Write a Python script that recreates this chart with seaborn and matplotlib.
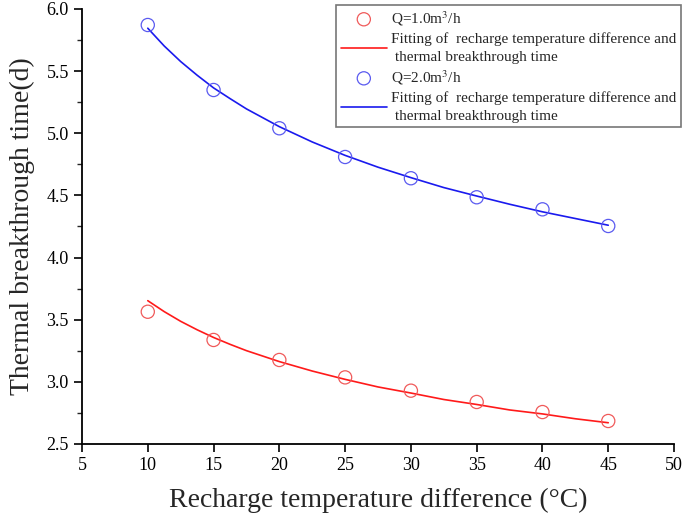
import numpy as np
import pandas as pd
import seaborn as sns
import matplotlib.pyplot as plt
from matplotlib.ticker import MultipleLocator

# measured points
temp_diff = [10, 15, 20, 25, 30, 35, 40, 45]
time_q1 = [3.564, 3.337, 3.176, 3.036, 2.929, 2.838, 2.757, 2.685]
time_q2 = [5.871, 5.348, 5.040, 4.809, 4.638, 4.485, 4.388, 4.254]

# fitted curves
fit_x = [10, 11.25, 12.5, 13.75, 15, 16.25, 17.5, 20, 22.5, 25, 27.5, 30,
         32.5, 35, 37.5, 40, 42.5, 45]
fit_q1 = [3.653, 3.565, 3.487, 3.419, 3.357, 3.302, 3.251, 3.163, 3.087, 3.02,
          2.959, 2.91, 2.858, 2.818, 2.774, 2.742, 2.703, 2.671]
fit_q2 = [5.845, 5.702, 5.577, 5.467, 5.365, 5.279, 5.196, 5.053, 4.93, 4.822,
          4.727, 4.643, 4.563, 4.495, 4.429, 4.368, 4.314, 4.26]

fit_label = "Fitting of  recharge temperature difference and\n thermal breakthrough time"

sns.set_theme(style="ticks")
plt.rcParams['font.family'] = ['Liberation Serif', 'DejaVu Serif']
plt.rcParams['mathtext.fontset'] = 'stix'

pts = pd.DataFrame({'x': temp_diff, 'q1': time_q1, 'q2': time_q2})
fits = pd.DataFrame({'x': fit_x, 'q1': fit_q1, 'q2': fit_q2})

fig = plt.figure(figsize=(6.85, 5.21), dpi=100)
ax = fig.add_axes([0.1197, 0.1478, 0.8643, 0.835])

red_pt, red_ln = '#f05a5a', '#ff1a1a'
blue_pt, blue_ln = '#5a5af0', '#1a1aee'

sns.scatterplot(data=pts, x='x', y='q1', ax=ax, marker='o', s=90,
                facecolors='none', edgecolor=red_pt, linewidth=0.9,
                label='Q=1.0m$^3$/h', zorder=3)
sns.lineplot(data=fits, x='x', y='q1', ax=ax, color=red_ln, linewidth=1.2,
             label=fit_label)
sns.scatterplot(data=pts, x='x', y='q2', ax=ax, marker='o', s=90,
                facecolors='none', edgecolor=blue_pt, linewidth=0.9,
                label='Q=2.0m$^3$/h', zorder=3)
sns.lineplot(data=fits, x='x', y='q2', ax=ax, color=blue_ln, linewidth=1.2,
             label=fit_label)

ax.set_xlim(5, 50)
ax.set_ylim(2.5, 6.0)
ax.xaxis.set_major_locator(MultipleLocator(5))
ax.yaxis.set_minor_locator(MultipleLocator(0.25))
ax.set_yticks(np.arange(2.5, 6.01, 0.5))
ax.set_yticklabels([f"{v:.1f}" for v in np.arange(2.5, 6.01, 0.5)])

ax.tick_params(axis='both', which='major', direction='out', length=6, width=1.2,
               labelsize=13, colors='black')
ax.tick_params(axis='y', which='minor', direction='out', length=3.5, width=1.0)
for side in ['left', 'bottom']:
    ax.spines[side].set_linewidth(1.3)
    ax.spines[side].set_color('black')
sns.despine(ax=ax)

ax.set_xlabel('Recharge temperature difference (\u00b0C)', fontsize=20, labelpad=10)
ax.set_ylabel('Thermal breakthrough time(d)', fontsize=20, labelpad=8)

handles, labels = ax.get_legend_handles_labels()
leg = ax.legend(handles, labels, loc='upper right', bbox_to_anchor=(1.012, 1.01),
                fontsize=11, frameon=True, fancybox=False, edgecolor='#777777',
                framealpha=1, handlelength=3.0, handletextpad=0.3,
                borderpad=0.3, labelspacing=0.3, borderaxespad=0.0)
for t in leg.get_texts():
    t.set_linespacing(1.45)
leg.get_frame().set_linewidth(1.2)

fig.savefig('out.png', dpi=100)
